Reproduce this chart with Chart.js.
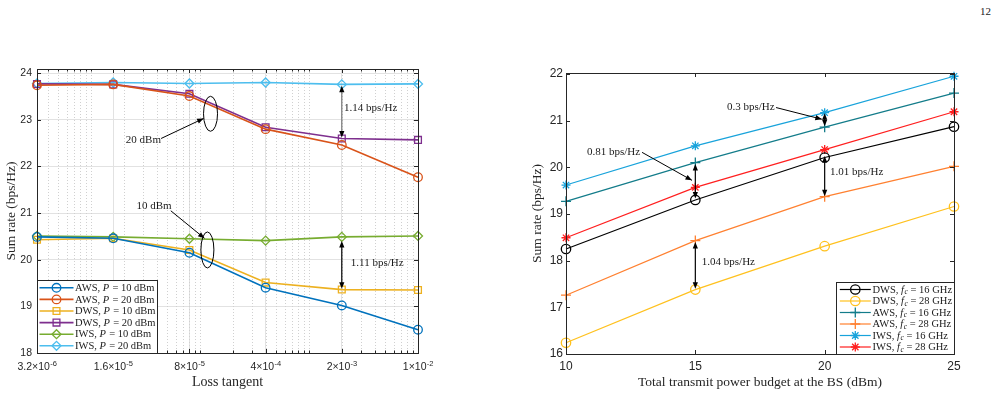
<!DOCTYPE html>
<html>
<head>
<meta charset="utf-8">
<title>Sum rate</title>
<script src="https://cdn.jsdelivr.net/npm/chart.js@4.4.1/dist/chart.umd.min.js"></script>
<style>
  html, body { margin: 0; padding: 0; background: #fff; }
  body { width: 1002px; height: 397px; position: relative; overflow: hidden; }
  .wrap { position: absolute; top: 0; height: 397px; }
  #leftWrap { left: 0; width: 440px; }
  #rightWrap { left: 520px; width: 482px; }
  #pageNo { position: absolute; left: 980px; top: 5px; font: 11px 'Liberation Serif', serif; color: #222; }
</style>
</head>
<body>
<div id="pageNo">12</div>
<div class="wrap" id="leftWrap"><canvas id="lossChart"></canvas></div>
<div class="wrap" id="rightWrap"><canvas id="powerChart"></canvas></div>
<script>
// left panel: sum rate vs loss tangent
const lossTangent = [3.2e-6, 1.6e-5, 8e-5, 4e-4, 2e-3, 1e-2];
const lossTickBase = ['3.2×10', '1.6×10', '8×10', '4×10', '2×10', '1×10'];
const lossTickExp = ['-6', '-5', '-5', '-4', '-3', '-2'];
const leftRateTicks = [18, 19, 20, 21, 22, 23, 24];
const awsP10 = [20.49, 20.46, 20.15, 19.40, 19.02, 18.50];
const awsP20 = [23.74, 23.76, 23.51, 22.80, 22.46, 21.77];
const dwsP10 = [20.43, 20.46, 20.21, 19.51, 19.36, 19.35];
const dwsP20 = [23.77, 23.76, 23.56, 22.84, 22.60, 22.57];
const iwsP10 = [20.51, 20.49, 20.45, 20.41, 20.49, 20.51];
const iwsP20 = [23.78, 23.80, 23.78, 23.80, 23.76, 23.77];

// right panel: sum rate vs power budget
const powerBudget = [10, 15, 20, 25];
const rightRateTicks = [16, 17, 18, 19, 20, 21, 22];
const dws16 = [18.25, 19.30, 20.21, 20.87];
const dws28 = [16.24, 17.38, 18.31, 19.16];
const aws16 = [19.27, 20.10, 20.86, 21.59];
const aws28 = [17.26, 18.43, 19.37, 20.02];
const iws16 = [19.62, 20.46, 21.17, 21.95];
const iws28 = [18.49, 19.57, 20.38, 21.19];

// annotations (data coordinates)
const lossGapArrows = [
  { x: 2e-3, y1: 23.73, y2: 22.62, color: '#777777' },
  { x: 2e-3, y1: 20.40, y2: 19.38, color: '#000000' }
];
const lossPointers = [
  { x1: 4.4e-5, y1: 22.60, x2: 1.08e-4, y2: 23.03 },
  { x1: 5.4e-5, y1: 21.05, x2: 1.1e-4, y2: 20.46 }
];
const lossEllipses = [
  { x: 1.25e-4, y: 23.13, rx: 7, ry: 17.5 },
  { x: 1.17e-4, y: 20.21, rx: 6.5, ry: 18 }
];
const lossNotes = [
  { text: '1.14 bps/Hz', x: 2.1e-3, y: 23.26, align: 'left' },
  { text: '1.11 bps/Hz', x: 2.42e-3, y: 19.92, align: 'left' },
  { text: '20 dBm', x: 3.03e-5, y: 22.57, align: 'center' },
  { text: '10 dBm', x: 3.79e-5, y: 21.16, align: 'center' }
];
const powerGapArrows = [
  { x: 20, y1: 21.16, y2: 20.88, color: '#000000' },
  { x: 15, y1: 20.07, y2: 19.33, color: '#000000' },
  { x: 20, y1: 20.24, y2: 19.38, color: '#000000' },
  { x: 15, y1: 18.40, y2: 17.40, color: '#000000' }
];
const powerPointers = [
  { x1: 18.12, y1: 21.28, x2: 19.89, y2: 21.03 },
  { x1: 12.94, y1: 20.32, x2: 14.87, y2: 19.72 }
];
const powerNotes = [
  { text: '0.3 bps/Hz', x: 16.22, y: 21.29, align: 'left' },
  { text: '0.81 bps/Hz', x: 10.81, y: 20.32, align: 'left' },
  { text: '1.01 bps/Hz', x: 20.21, y: 19.90, align: 'left' },
  { text: '1.04 bps/Hz', x: 15.25, y: 17.97, align: 'left' }
];

const serif = "'Liberation Serif', 'DejaVu Serif', serif";
const sans = "'Liberation Sans', Arial, sans-serif";
const axisColor = '#262626';

function pts(xs, ys) {
  return xs.map((x, i) => ({ x: x, y: ys[i] }));
}

function series(parts, xs, ys, color, style, r, lw) {
  return {
    label: parts.map(p => p.t).join(''),
    legendParts: parts,
    data: pts(xs, ys),
    borderColor: color,
    backgroundColor: 'rgba(0,0,0,0)',
    pointBackgroundColor: 'rgba(0,0,0,0)',
    pointBorderColor: color,
    pointStyle: style,
    pointRadius: r,
    pointHoverRadius: r,
    pointBorderWidth: 1.3,
    borderWidth: lw,
    tension: 0,
    clip: false
  };
}

function pParts(name, val) {
  return [{ t: name + ', ' }, { t: 'P', it: true }, { t: ' = ' + val + ' dBm' }];
}
function fParts(name, val) {
  return [{ t: name + ', ' }, { t: 'f', it: true }, { t: 'c', it: true, sub: true }, { t: ' = ' + val + ' GHz' }];
}

function arrowHead(ctx, x1, y1, x2, y2, color) {
  const a = Math.atan2(y2 - y1, x2 - x1), len = 6.5, half = 2.6;
  ctx.beginPath();
  ctx.moveTo(x2, y2);
  ctx.lineTo(x2 - len * Math.cos(a) + half * Math.sin(a), y2 - len * Math.sin(a) - half * Math.cos(a));
  ctx.lineTo(x2 - len * Math.cos(a) - half * Math.sin(a), y2 - len * Math.sin(a) + half * Math.cos(a));
  ctx.closePath();
  ctx.fillStyle = color;
  ctx.fill();
}

function drawParts(ctx, parts, x, y, size) {
  let cx = x;
  parts.forEach(p => {
    const fs = p.sub ? size * 0.72 : size;
    ctx.font = (p.it ? 'italic ' : '') + fs + 'px ' + serif;
    ctx.fillText(p.t, cx, p.sub ? y + size * 0.22 : y);
    cx += ctx.measureText(p.t).width + (p.it && !p.sub ? 0.6 : 0);
  });
}

function matlabAxes(cfg) {
  return {
    id: 'matlabAxes',
    beforeDatasetsDraw(chart) {
      if (!cfg.minorX) return;
      const { ctx, chartArea: a, scales: { x } } = chart;
      ctx.save();
      ctx.strokeStyle = '#d0d0d0';
      ctx.lineWidth = 1;
      ctx.setLineDash([1, 2]);
      cfg.minorX.forEach(v => {
        const px = Math.round(x.getPixelForValue(v)) + 0.5;
        ctx.beginPath();
        ctx.moveTo(px, a.top);
        ctx.lineTo(px, a.bottom);
        ctx.stroke();
      });
      ctx.restore();
    },
    afterDatasetsDraw(chart) {
      const { ctx, chartArea: a, scales: { x, y } } = chart;
      ctx.save();
      // frame and inner ticks
      ctx.strokeStyle = axisColor;
      ctx.lineWidth = 1;
      ctx.strokeRect(Math.round(a.left) + 0.5, Math.round(a.top) + 0.5,
        Math.round(a.right) - Math.round(a.left), Math.round(a.bottom) - Math.round(a.top));
      ctx.beginPath();
      cfg.yTicks.forEach(v => {
        const py = Math.round(y.getPixelForValue(v)) + 0.5;
        ctx.moveTo(a.left, py); ctx.lineTo(a.left + 4, py);
        ctx.moveTo(a.right, py); ctx.lineTo(a.right - 4, py);
      });
      cfg.xTicks.forEach(v => {
        const px = Math.round(x.getPixelForValue(v)) + 0.5;
        ctx.moveTo(px, a.bottom); ctx.lineTo(px, a.bottom - 4);
        ctx.moveTo(px, a.top); ctx.lineTo(px, a.top + 4);
      });
      (cfg.minorX || []).forEach(v => {
        const px = Math.round(x.getPixelForValue(v)) + 0.5;
        ctx.moveTo(px, a.bottom); ctx.lineTo(px, a.bottom - 2.5);
        ctx.moveTo(px, a.top); ctx.lineTo(px, a.top + 2.5);
      });
      ctx.stroke();

      // power-of-ten tick labels with a real superscript
      if (cfg.expLabels) {
        ctx.fillStyle = axisColor;
        ctx.textAlign = 'left';
        ctx.textBaseline = 'alphabetic';
        cfg.xTicks.forEach((v, i) => {
          const base = cfg.expLabels.base[i], exp = cfg.expLabels.exp[i];
          ctx.font = '10.5px ' + sans;
          const wb = ctx.measureText(base).width;
          ctx.font = '7.5px ' + sans;
          const we = ctx.measureText(exp).width;
          const x0 = x.getPixelForValue(v) - (wb + we) / 2;
          ctx.font = '10.5px ' + sans;
          ctx.fillText(base, x0, a.bottom + 17);
          ctx.font = '7.5px ' + sans;
          ctx.fillText(exp, x0 + wb + 0.3, a.bottom + 12.5);
        });
      }

      // ellipses
      ctx.strokeStyle = '#000';
      (cfg.ellipses || []).forEach(e => {
        ctx.beginPath();
        ctx.ellipse(x.getPixelForValue(e.x), y.getPixelForValue(e.y), e.rx, e.ry, 0, 0, Math.PI * 2);
        ctx.stroke();
      });
      // double arrows
      cfg.gaps.forEach(g => {
        const px = x.getPixelForValue(g.x), p1 = y.getPixelForValue(g.y1), p2 = y.getPixelForValue(g.y2);
        ctx.strokeStyle = g.color;
        ctx.lineWidth = 1.2;
        ctx.beginPath();
        ctx.moveTo(px, p1 + 4); ctx.lineTo(px, p2 - 4);
        ctx.stroke();
        arrowHead(ctx, px, p2, px, p1, '#000');
        arrowHead(ctx, px, p1, px, p2, '#000');
      });
      // pointers
      cfg.pointers.forEach(p => {
        const x1 = x.getPixelForValue(p.x1), y1 = y.getPixelForValue(p.y1);
        const x2 = x.getPixelForValue(p.x2), y2 = y.getPixelForValue(p.y2);
        ctx.strokeStyle = '#000';
        ctx.lineWidth = 1;
        ctx.beginPath();
        ctx.moveTo(x1, y1); ctx.lineTo(x2, y2);
        ctx.stroke();
        arrowHead(ctx, x1, y1, x2, y2, '#000');
      });
      // notes
      ctx.fillStyle = '#1a1a1a';
      ctx.font = '11px ' + serif;
      ctx.textBaseline = 'middle';
      cfg.notes.forEach(n => {
        ctx.textAlign = n.align;
        ctx.fillText(n.text, x.getPixelForValue(n.x), y.getPixelForValue(n.y));
      });

      // legend
      const L = cfg.legend;
      const bx = L.corner === 'left' ? Math.round(a.left) + 0.5 : Math.round(a.right) - L.width + 0.5;
      const by = Math.round(a.bottom) - L.height + 0.5;
      ctx.fillStyle = '#fff';
      ctx.fillRect(bx, by, L.width, L.height);
      ctx.strokeStyle = axisColor;
      ctx.lineWidth = 1;
      ctx.strokeRect(bx, by, L.width, L.height);
      ctx.textAlign = 'left';
      ctx.textBaseline = 'middle';
      chart.data.datasets.forEach((ds, i) => {
        const ry = by + L.first + i * L.rowH;
        ctx.strokeStyle = ds.borderColor;
        ctx.lineWidth = ds.borderWidth;
        ctx.beginPath();
        ctx.moveTo(bx + L.line0, ry); ctx.lineTo(bx + L.line1, ry);
        ctx.stroke();
        ctx.fillStyle = 'rgba(0,0,0,0)';
        ctx.lineWidth = ds.pointBorderWidth;
        Chart.helpers.drawPoint(ctx, { pointStyle: ds.pointStyle, radius: ds.pointRadius, rotation: 0, borderWidth: ds.pointBorderWidth },
          bx + (L.line0 + L.line1) / 2, ry);
        ctx.fillStyle = '#1a1a1a';
        drawParts(ctx, ds.legendParts, bx + L.text, ry + 0.5, L.font);
      });
      ctx.restore();
    }
  };
}

// minor log grid positions between the axis limits
const minorLoss = [];
for (let e = -6; e <= -3; e++) {
  for (let m = 1; m <= 9; m++) {
    const v = m * Math.pow(10, e);
    if (v > 3.2e-6 * 1.001 && v < 1e-2 * 0.999) minorLoss.push(v);
  }
}

new Chart(document.getElementById('lossChart'), {
  type: 'line',
  data: {
    datasets: [
      series(pParts('AWS', 10), lossTangent, awsP10, '#0072BD', 'circle', 4.3, 1.6),
      series(pParts('AWS', 20), lossTangent, awsP20, '#D95319', 'circle', 4.3, 1.6),
      series(pParts('DWS', 10), lossTangent, dwsP10, '#EDB120', 'rect', 4.8, 1.6),
      series(pParts('DWS', 20), lossTangent, dwsP20, '#7E2F8E', 'rect', 4.8, 1.6),
      series(pParts('IWS', 10), lossTangent, iwsP10, '#77AC30', 'rectRot', 4.5, 1.6),
      series(pParts('IWS', 20), lossTangent, iwsP20, '#4DBEEE', 'rectRot', 4.5, 1.6)
    ]
  },
  options: {
    responsive: true,
    maintainAspectRatio: false,
    animation: false,
    layout: { padding: { top: 69, right: 22, bottom: 0, left: 0 } },
    plugins: { legend: { display: false }, tooltip: { enabled: false } },
    scales: {
      x: {
        type: 'logarithmic',
        min: 3.2e-6,
        max: 1e-2,
        afterBuildTicks: s => { s.ticks = lossTangent.map(v => ({ value: v })); },
        afterFit: s => { s.height = 44; },
        ticks: { display: false },
        grid: { color: '#e2e2e2', drawTicks: false },
        border: { display: false },
        title: { display: true, text: 'Loss tangent', font: { family: serif, size: 14 }, color: axisColor, padding: { top: 0, bottom: 6 } }
      },
      y: {
        min: 18,
        max: 24.09,
        afterBuildTicks: s => { s.ticks = leftRateTicks.map(v => ({ value: v })); },
        afterFit: s => { s.width = 37; },
        ticks: { padding: 5, font: { family: sans, size: 10.5 }, color: axisColor },
        grid: { color: '#e2e2e2', drawTicks: false },
        border: { display: false },
        title: { display: true, text: 'Sum rate (bps/Hz)', font: { family: serif, size: 13.5 }, color: axisColor, padding: { top: 3, bottom: 0 } }
      }
    }
  },
  plugins: [matlabAxes({
    yTicks: leftRateTicks, xTicks: lossTangent, minorX: minorLoss,
    expLabels: { base: lossTickBase, exp: lossTickExp },
    gaps: lossGapArrows, pointers: lossPointers, ellipses: lossEllipses, notes: lossNotes,
    legend: { corner: 'left', width: 120, height: 73, first: 7.3, rowH: 11.6, line0: 2, line1: 36, text: 37.5, font: 10.5 }
  })]
});

new Chart(document.getElementById('powerChart'), {
  type: 'line',
  data: {
    datasets: [
      series(fParts('DWS', 16), powerBudget, dws16, '#000000', 'circle', 4.7, 1.2),
      series(fParts('DWS', 28), powerBudget, dws28, '#FFC11E', 'circle', 4.7, 1.2),
      series(fParts('AWS', 16), powerBudget, aws16, '#137C8A', 'cross', 5, 1.2),
      series(fParts('AWS', 28), powerBudget, aws28, '#FF8030', 'cross', 5, 1.2),
      series(fParts('IWS', 16), powerBudget, iws16, '#18A3DB', 'star', 4.5, 1.2),
      series(fParts('IWS', 28), powerBudget, iws28, '#FF1F1F', 'star', 4.5, 1.2)
    ]
  },
  options: {
    responsive: true,
    maintainAspectRatio: false,
    animation: false,
    layout: { padding: { top: 73, right: 48, bottom: 0, left: 0 } },
    plugins: { legend: { display: false }, tooltip: { enabled: false } },
    scales: {
      x: {
        type: 'linear',
        min: 10,
        max: 25,
        afterBuildTicks: s => { s.ticks = powerBudget.map(v => ({ value: v })); },
        afterFit: s => { s.height = 43; },
        ticks: { autoSkip: false, maxRotation: 0, padding: 5, font: { family: sans, size: 12 }, color: axisColor },
        grid: { display: false, drawTicks: false },
        border: { display: false },
        title: { display: true, text: 'Total transmit power budget at the BS (dBm)', font: { family: serif, size: 13.5 }, color: axisColor, padding: { top: 0, bottom: 6 } }
      },
      y: {
        min: 16,
        max: 22.02,
        afterBuildTicks: s => { s.ticks = rightRateTicks.map(v => ({ value: v })); },
        afterFit: s => { s.width = 46; },
        ticks: { padding: 3, font: { family: sans, size: 12 }, color: axisColor },
        grid: { display: false, drawTicks: false },
        border: { display: false },
        title: { display: true, text: 'Sum rate (bps/Hz)', font: { family: serif, size: 13.5 }, color: axisColor, padding: { top: 9, bottom: 0 } }
      }
    }
  },
  plugins: [matlabAxes({
    yTicks: rightRateTicks, xTicks: powerBudget,
    gaps: powerGapArrows, pointers: powerPointers, notes: powerNotes,
    legend: { corner: 'right', width: 118, height: 72, first: 7, rowH: 11.5, line0: 3.3, line1: 34.3, text: 36, font: 10.5 }
  })]
});
</script>
</body>
</html>
